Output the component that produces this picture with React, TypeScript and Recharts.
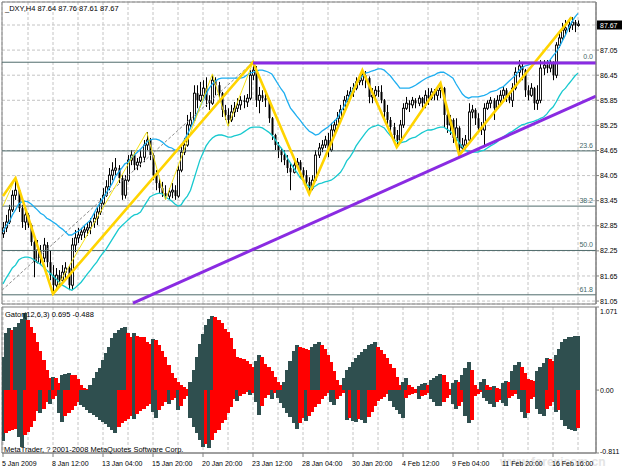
import React from 'react';
import {
  ComposedChart,
  Bar,
  Line,
  XAxis,
  YAxis,
  CartesianGrid,
  ReferenceLine,
  ReferenceArea,
  Cell,
} from 'recharts';

const FONT = "'Liberation Sans', Arial, sans-serif";
const DARK = '#2F4F4F';
const RED = '#FF0000';

// _DXY H4 bars, 5 Jan - 17 Feb 2009
const closes = [
  82.8, 82.94, 83.23, 83.58, 83.7, 83.27, 82.94, 83.11, 82.87, 82.46,
  81.98, 82.27, 82.08, 82.39, 81.98, 81.67, 81.43, 81.67, 81.55, 81.74,
  81.84, 81.43, 82.39, 82.56, 82.63, 82.7, 82.75, 82.8, 82.94, 83.03,
  83.18, 83.39, 83.58, 83.78, 84.06, 84.18, 84.23, 83.99, 83.58, 83.94,
  84.42, 84.54, 84.3, 84.37, 84.49, 84.78, 84.9, 84.54, 84.06, 83.87,
  83.75, 83.63, 83.56, 83.66, 83.7, 83.56, 84.18, 84.61, 84.78, 85.26,
  85.38, 86.02, 85.85, 85.97, 86.14, 85.85, 85.78, 86.33, 86.21, 86.02,
  85.62, 85.5, 85.38, 85.57, 85.66, 85.74, 85.85, 85.81, 85.9, 86.45,
  86.57, 85.85, 85.97, 85.9, 85.85, 85.42, 85.02, 84.78, 84.66, 84.54,
  84.42, 84.23, 84.13, 84.3, 84.37, 84.18, 84.06, 83.9, 83.75, 83.94,
  84.54, 84.71, 84.78, 84.9, 84.66, 85.14, 85.26, 85.42, 85.62, 85.85,
  85.97, 86.05, 86.14, 86.29, 86.33, 86.45, 86.38, 85.93, 85.97, 86.09,
  86.05, 85.85, 85.57, 85.38, 85.21, 85.02, 84.9, 85.26, 85.66, 85.78,
  85.74, 85.85, 85.78, 85.9, 85.78, 85.97, 85.9, 86.05, 85.97, 86.09,
  86.14, 85.5, 85.26, 85.38, 84.95, 85.19, 84.71, 84.78, 84.9, 85.57,
  85.62, 85.42, 85.19, 85.14, 85.66, 85.78, 85.85, 85.66, 85.85, 85.97,
  86.09, 85.93, 85.85, 86.14, 86.52, 86.67, 86.57, 86.09, 85.97, 86.14,
  85.78, 85.85, 86.62, 86.69, 86.62, 86.74, 86.45, 87.17, 87.34, 87.53,
  87.58, 87.65, 87.72, 87.64, 87.67,
];

const highs = [
  82.94, 83.11, 83.35, 83.7, 83.99, 83.75, 83.35, 83.23, 83.15, 82.9,
  82.5, 82.51, 82.39, 82.56, 82.46, 82.27, 81.91, 81.84, 81.79, 81.91,
  81.98, 81.88, 82.56, 82.75, 82.8, 82.8, 82.87, 82.94, 83.03, 83.18,
  83.3, 83.51, 83.75, 83.94, 84.23, 84.37, 84.47, 84.3, 84.06, 84.06,
  84.54, 84.66, 84.61, 84.47, 84.66, 84.9, 85.09, 84.95, 84.58, 84.18,
  83.99, 83.9, 83.82, 83.75, 83.87, 83.82, 84.3, 84.78, 84.95, 85.5,
  85.57, 86.21, 86.21, 86.29, 86.33, 86.4, 85.97, 86.48, 86.4, 86.29,
  86.05, 85.74, 85.66, 85.74, 85.81, 85.9, 85.95, 85.97, 86.0, 86.57,
  86.76, 86.67, 86.17, 86.09, 86.02, 85.88, 85.45, 85.05, 84.85, 84.71,
  84.66, 84.54, 84.35, 84.47, 84.47, 84.42, 84.25, 84.18, 84.01, 84.06,
  84.66, 84.83, 84.9, 85.0, 85.07, 85.31, 85.38, 85.57, 85.74, 85.95,
  86.09, 86.17, 86.26, 86.4, 86.45, 86.57, 86.55, 86.42, 86.14, 86.19,
  86.19, 86.21, 85.88, 85.74, 85.45, 85.31, 85.14, 85.38, 85.78, 85.93,
  85.85, 85.93, 85.9, 85.97, 85.93, 86.09, 86.14, 86.14, 86.12, 86.17,
  86.26, 86.17, 85.57, 85.5, 85.42, 85.42, 85.23, 84.95, 85.02, 85.78,
  85.74, 85.66, 85.54, 85.33, 85.78, 85.85, 85.93, 85.9, 85.97, 86.09,
  86.17, 86.14, 86.02, 86.26, 86.64, 86.81, 86.76, 86.6, 86.21, 86.26,
  86.17, 86.21, 86.81, 86.81, 86.81, 86.81, 86.78, 87.24, 87.46, 87.7,
  87.77, 87.82, 87.84, 87.77, 87.76,
];

const lows = [
  82.56, 82.7, 82.89, 83.18, 83.47, 83.18, 82.8, 82.75, 82.8, 82.37,
  81.62, 81.95, 81.91, 81.98, 81.86, 81.55, 81.22, 81.31, 81.43, 81.48,
  81.6, 81.31, 81.31, 82.22, 82.44, 82.51, 82.56, 82.61, 82.65, 82.8,
  82.87, 83.11, 83.35, 83.54, 83.7, 83.94, 84.06, 83.87, 83.47, 83.5,
  83.9, 84.3, 84.18, 84.18, 84.25, 84.37, 84.66, 84.42, 83.94, 83.7,
  83.63, 83.54, 83.47, 83.47, 83.51, 83.47, 83.52, 84.13, 84.54, 84.74,
  85.19, 85.35, 85.66, 85.81, 85.9, 85.69, 85.62, 85.74, 85.97, 85.9,
  85.45, 85.38, 85.23, 85.33, 85.45, 85.57, 85.62, 85.66, 85.69, 85.85,
  86.33, 85.69, 85.54, 85.81, 85.69, 85.31, 84.9, 84.66, 84.47, 84.37,
  84.3, 84.11, 83.7, 84.1, 84.23, 83.99, 83.94, 83.78, 83.61, 83.7,
  83.9, 84.47, 84.61, 84.71, 84.49, 84.62, 85.07, 85.21, 85.33, 85.57,
  85.8, 85.9, 85.93, 86.09, 86.21, 86.21, 86.14, 85.78, 85.78, 85.85,
  85.93, 85.78, 85.42, 85.26, 85.11, 84.9, 84.73, 84.83, 85.19, 85.62,
  85.57, 85.66, 85.66, 85.71, 85.62, 85.66, 85.74, 85.85, 85.85, 85.85,
  85.9, 85.21, 85.07, 85.02, 84.83, 84.78, 84.54, 84.66, 84.71, 84.85,
  85.42, 85.26, 85.07, 85.02, 84.73, 85.62, 85.66, 85.38, 85.62, 85.78,
  85.85, 85.81, 85.78, 85.69, 86.09, 86.4, 86.33, 85.93, 85.85, 85.93,
  85.62, 85.62, 85.78, 86.45, 86.5, 86.52, 86.33, 86.38, 87.1, 87.29,
  87.41, 87.48, 87.53, 87.48, 87.61,
];

// each bar opens at the previous close
const opens = [82.66, ...closes.slice(0, -1)];

const upperBand = [
  82.7, 82.85, 82.94, 83.11, 83.23, 83.37, 83.42, 83.44, 83.42, 83.37,
  83.3, 83.23, 83.15, 83.11, 83.03, 82.99, 82.94, 82.89, 82.82, 82.77,
  82.7, 82.63, 82.63, 82.68, 82.72, 82.77, 82.85, 82.92, 82.99, 83.13,
  83.27, 83.39, 83.51, 83.63, 83.75, 83.87, 84.04, 84.13, 84.23, 84.33,
  84.37, 84.47, 84.54, 84.61, 84.68, 84.76, 84.85, 84.9, 84.92, 84.92,
  84.9, 84.85, 84.78, 84.73, 84.71, 84.66, 84.66, 84.76, 84.9, 85.04,
  85.19, 85.35, 85.52, 85.69, 85.85, 86.0, 86.14, 86.24, 86.31, 86.36,
  86.38, 86.38, 86.38, 86.38, 86.38, 86.38, 86.38, 86.4, 86.45, 86.5,
  86.52, 86.55, 86.57, 86.57, 86.55, 86.52, 86.48, 86.36, 86.24, 86.12,
  86.02, 85.83, 85.66, 85.57, 85.47, 85.38, 85.28, 85.19, 85.11, 85.07,
  85.02, 85.04, 85.11, 85.16, 85.21, 85.28, 85.35, 85.42, 85.57, 85.69,
  85.83, 85.97, 86.12, 86.26, 86.36, 86.43, 86.5, 86.52, 86.55, 86.57,
  86.6, 86.6, 86.57, 86.5, 86.43, 86.33, 86.24, 86.14, 86.14, 86.14,
  86.14, 86.17, 86.21, 86.26, 86.31, 86.36, 86.4, 86.43, 86.45, 86.5,
  86.52, 86.52, 86.48, 86.43, 86.38, 86.24, 86.12, 86.0, 85.93, 85.9,
  85.93, 85.93, 85.93, 85.95, 85.97, 86.0, 86.05, 86.07, 86.09, 86.14,
  86.17, 86.24, 86.31, 86.38, 86.45, 86.55, 86.62, 86.67, 86.69, 86.72,
  86.74, 86.74, 86.74, 86.74, 86.74, 86.81, 86.91, 87.0, 87.12, 87.27,
  87.41, 87.58, 87.72, 87.84, 87.93,
];

const lowerBand = [
  81.46, 81.6, 81.72, 81.84, 81.91, 82.03, 82.08, 82.1, 82.1, 82.08,
  82.03, 81.98, 81.93, 81.86, 81.79, 81.72, 81.65, 81.58, 81.5, 81.43,
  81.39, 81.34, 81.31, 81.36, 81.43, 81.5, 81.6, 81.7, 81.79, 81.89,
  81.98, 82.1, 82.2, 82.29, 82.41, 82.53, 82.65, 82.77, 82.85, 82.92,
  82.99, 83.06, 83.11, 83.13, 83.18, 83.3, 83.42, 83.54, 83.58, 83.61,
  83.63, 83.61, 83.54, 83.49, 83.44, 83.37, 83.32, 83.35, 83.47, 83.56,
  83.7, 83.94, 84.18, 84.42, 84.59, 84.76, 84.87, 84.95, 85.0, 85.02,
  85.02, 85.0, 84.97, 84.97, 85.0, 85.02, 85.04, 85.09, 85.14, 85.19,
  85.21, 85.21, 85.21, 85.19, 85.14, 85.09, 85.02, 84.92, 84.8, 84.71,
  84.61, 84.47, 84.35, 84.23, 84.13, 84.01, 83.94, 83.85, 83.78, 83.75,
  83.8, 83.85, 83.87, 83.9, 83.92, 83.94, 83.99, 84.06, 84.13, 84.25,
  84.4, 84.49, 84.61, 84.76, 84.87, 84.97, 85.07, 85.16, 85.21, 85.23,
  85.26, 85.23, 85.19, 85.09, 85.0, 84.92, 84.87, 84.83, 84.85, 84.87,
  84.92, 84.95, 84.97, 85.02, 85.07, 85.11, 85.14, 85.14, 85.16, 85.19,
  85.21, 85.21, 85.16, 85.11, 85.04, 84.95, 84.83, 84.73, 84.66, 84.61,
  84.61, 84.61, 84.61, 84.64, 84.66, 84.71, 84.76, 84.8, 84.85, 84.92,
  84.97, 85.02, 85.07, 85.11, 85.16, 85.21, 85.26, 85.28, 85.31, 85.33,
  85.35, 85.38, 85.42, 85.45, 85.52, 85.62, 85.69, 85.81, 85.95, 86.07,
  86.14, 86.24, 86.33, 86.43, 86.5,
];

// zigzag pivots: [bar index, price]
const zigzagMajor = [
  [0, 83.56], [4, 83.99], [16, 81.22], [80, 86.76], [98, 83.61],
  [115, 86.57], [126, 84.73], [140, 86.26], [146, 84.54], [182, 87.84],
];
const zigzagMinor = [
  [0, 83.32], [4, 83.99], [16, 81.22], [46, 85.09], [52, 83.47],
  [67, 86.48], [72, 85.23], [80, 86.76],
];

const fibLevels = [
  { name: '0.0', price: 86.76 },
  { name: '23.6', price: 84.64 },
  { name: '38.2', price: 83.32 },
  { name: '50.0', price: 82.26 },
  { name: '61.8', price: 81.2 },
];

const supportLine = [{ x: 41.6, y: 81.0 }, { x: 189.76, y: 85.95 }];
const resistanceLine = [{ x: 80, y: 86.74 }, { x: 189.76, y: 86.74 }];
const fibBaseLine = [{ x: -0.32, y: 81.31 }, { x: 80, y: 86.76 }];

const gatorUp = [
  0.43, 0.74, 0.8, 0.77, 0.81, 0.86, 0.92, 0.99, 0.9, 0.81,
  0.73, 0.62, 0.51, 0.39, 0.26, 0.15, 0.17, 0.15, 0.09, 0.19,
  0.21, 0.22, 0.2, 0.19, 0.14, 0.07, 0.03, 0.02, 0.07, 0.16,
  0.23, 0.29, 0.39, 0.48, 0.55, 0.67, 0.73, 0.77, 0.8, 0.81,
  0.73, 0.68, 0.73, 0.7, 0.69, 0.68, 0.62, 0.6, 0.66, 0.64,
  0.58, 0.51, 0.43, 0.32, 0.22, 0.16, 0.11, 0.07, 0.04, 0.02,
  0.11, 0.26, 0.43, 0.59, 0.72, 0.84, 0.91, 0.96, 0.94, 0.9,
  0.86, 0.79, 0.75, 0.67, 0.53, 0.43, 0.41, 0.4, 0.38, 0.34,
  0.3, 0.38, 0.45, 0.43, 0.34, 0.3, 0.24, 0.17, 0.1, 0.06,
  0.11, 0.26, 0.38, 0.51, 0.58, 0.55, 0.54, 0.53, 0.52, 0.56,
  0.6, 0.62, 0.58, 0.53, 0.45, 0.36, 0.24, 0.13, 0.07, 0.15,
  0.26, 0.3, 0.36, 0.41, 0.45, 0.49, 0.53, 0.58, 0.6, 0.62,
  0.56, 0.52, 0.46, 0.41, 0.34, 0.28, 0.17, 0.07, 0.1, 0.15,
  0.07, 0.04, 0.01, 0.05, 0.08, 0.09, 0.07, 0.13, 0.16, 0.18,
  0.21, 0.2, 0.1, 0.01, 0.09, 0.13, 0.11, 0.19, 0.28, 0.36,
  0.26, 0.07, 0.01, 0.1, 0.14, 0.07, 0.04, 0.05, 0.03, 0.01,
  0.09, 0.12, 0.11, 0.24, 0.32, 0.36, 0.3, 0.22, 0.14, 0.13,
  0.12, 0.24, 0.3, 0.35, 0.41, 0.4, 0.38, 0.45, 0.53, 0.62,
  0.66, 0.68, 0.69, 0.692, 0.695,
];

const gatorDown = [
  -0.66, -0.55, -0.53, -0.51, -0.5, -0.6, -0.74, -0.58, -0.54, -0.47,
  -0.4, -0.27, -0.3, -0.24, -0.15, -0.18, -0.11, -0.07, -0.3, -0.41,
  -0.33, -0.3, -0.26, -0.2, -0.16, -0.19, -0.22, -0.26, -0.29, -0.32,
  -0.35, -0.38, -0.41, -0.44, -0.48, -0.51, -0.55, -0.47, -0.43, -0.4,
  -0.37, -0.34, -0.37, -0.31, -0.27, -0.24, -0.21, -0.18, -0.28, -0.36,
  -0.26, -0.2, -0.15, -0.18, -0.13, -0.1, -0.26, -0.21, -0.12, -0.07,
  -0.36, -0.47, -0.55, -0.64, -0.73, -0.7, -0.75, -0.64, -0.55, -0.51,
  -0.43, -0.38, -0.3, -0.22, -0.12, -0.14, -0.07, -0.05, -0.03, -0.06,
  -0.04, -0.15, -0.32, -0.2, -0.1, -0.06, -0.12, -0.04, -0.1, -0.17,
  -0.23, -0.29, -0.35, -0.43, -0.5, -0.42, -0.36, -0.4, -0.34, -0.28,
  -0.22, -0.18, -0.12, -0.07, -0.04, -0.15, -0.19, -0.12, -0.08, -0.04,
  -0.38, -0.36, -0.4, -0.41, -0.37, -0.39, -0.42, -0.35, -0.28, -0.2,
  -0.14, -0.12, -0.09, -0.05, -0.14, -0.22, -0.26, -0.31, -0.36, -0.1,
  -0.06, -0.05, -0.04, -0.12, -0.08, -0.06, -0.04, -0.12, -0.16, -0.2,
  -0.21, -0.15, -0.1, -0.06, -0.18, -0.24, -0.2, -0.16, -0.33, -0.43,
  -0.38, -0.08, -0.05, -0.03, -0.1, -0.14, -0.18, -0.22, -0.16, -0.13,
  -0.17, -0.2, -0.1, -0.07, -0.05, -0.12, -0.28, -0.36, -0.3, -0.12,
  -0.09, -0.25, -0.31, -0.33, -0.24, -0.2, -0.15, -0.28, -0.26, -0.38,
  -0.46, -0.5, -0.52, -0.53, -0.488,
];

const priceTicks = [81.05, 81.65, 82.25, 82.85, 83.45, 84.05, 84.65, 85.25, 85.85, 86.45, 87.05, 87.65];
const gatorTicks = [-0.811, 0, 1.071];
const gridTicks = [0, 8, 16, 24, 32, 40, 48, 56, 64, 72, 80, 88, 96, 104, 112, 120, 128, 136, 144, 152, 160, 168, 176, 184];
const timeLabels = [
  '5 Jan 2009', '8 Jan 12:00', '13 Jan 04:00', '15 Jan 20:00', '20 Jan 20:00', '23 Jan 12:00',
  '28 Jan 04:00', '30 Jan 20:00', '4 Feb 12:00', '9 Feb 04:00', '11 Feb 20:00', '16 Feb 16:00',
];

const X_DOMAIN = [-0.32, 189.76];
const PRICE_DOMAIN = [80.98, 88.2];

const majorMap = new Map(zigzagMajor.map(([i, p]) => [i, p]));
const minorMap = new Map(zigzagMinor.map(([i, p]) => [i, p]));

const rows = closes.map((close, i) => ({
  i,
  open: opens[i],
  high: highs[i],
  low: lows[i],
  close,
  range: [lows[i], highs[i]],
  upper: upperBand[i],
  lower: lowerBand[i],
  zzMajor: majorMap.has(i) ? majorMap.get(i) : null,
  zzMinor: minorMap.has(i) ? minorMap.get(i) : null,
  gUp: gatorUp[i],
  gDn: gatorDown[i],
}));

const upFill = gatorUp.map((v, i) => (i === 0 || v > gatorUp[i - 1] ? DARK : RED));
const dnFill = gatorDown.map((v, i) => (i === 0 || Math.abs(v) > Math.abs(gatorDown[i - 1]) ? DARK : RED));

const last = rows[rows.length - 1];

const Candle = (props: any) => {
  const { x, width, y, height, payload } = props;
  if (x == null || !payload) return null;
  const top = Math.min(y, y + height);
  const h = Math.abs(height);
  const cx = Math.round(x + width / 2) + 0.5;
  const span = payload.high - payload.low;
  const ppu = span > 0 ? h / span : 0;
  const yo = top + (payload.high - payload.open) * ppu;
  const yc = top + (payload.high - payload.close) * ppu;
  const bull = payload.close >= payload.open;
  const bTop = Math.min(yo, yc);
  const bH = Math.max(1, Math.abs(yc - yo));
  return (
    <g>
      <line x1={cx} x2={cx} y1={top} y2={top + h} stroke="#000" strokeWidth={1} />
      {bull ? (
        <rect x={cx - 1} y={bTop} width={2} height={bH} fill="#fff" stroke="#000" strokeWidth={0.9} />
      ) : (
        <rect x={cx - 1} y={bTop} width={2} height={bH} fill="#000" />
      )}
    </g>
  );
};

// histogram column that always covers its full slot, so neighbours touch
const GatorColumn = (props: any) => {
  const { x, y, width, height, fill } = props;
  if (x == null || !height) return null;
  const top = Math.min(y, y + height);
  return (
    <rect
      x={Math.floor(x)}
      y={top}
      width={Math.ceil(width) + 1}
      height={Math.abs(height)}
      fill={fill}
      shapeRendering="crispEdges"
    />
  );
};

const PriceTick = (props: any) => {
  const { x, y, payload } = props;
  const v = payload.value;
  if (v === priceTicks[priceTicks.length - 1]) {
    return (
      <g>
        <rect x={x - 3} y={y - 4.5} width={25} height={9} fill="#000" />
        <text x={x} y={y + 2.6} fill="#fff" fontSize={7} fontFamily={FONT}>
          {last.close.toFixed(2)}
        </text>
      </g>
    );
  }
  return (
    <text x={x} y={y + 2.6} fill="#000" fontSize={7} fontFamily={FONT}>
      {v.toFixed(2)}
    </text>
  );
};

const GatorTick = (props: any) => {
  const { x, y, payload } = props;
  const v = payload.value;
  const dy = v === gatorTicks[2] ? 6.5 : v === gatorTicks[0] ? 0.5 : 2.6;
  return (
    <text x={x} y={y + dy} fill="#000" fontSize={7} fontFamily={FONT}>
      {v === 0 ? '0.00' : v.toFixed(3)}
    </text>
  );
};

const TimeTick = (props: any) => {
  const { x, y, payload } = props;
  const v = Math.round(payload.value);
  if (v % 16 !== 0) return null;
  return (
    <g>
      <line x1={x} x2={x} y1={y} y2={y + 4} stroke="#808080" />
      <text x={x - 1} y={y + 13} fill="#000" fontSize={7} fontFamily={FONT}>
        {timeLabels[v / 16]}
      </text>
    </g>
  );
};

export default function App() {
  return (
    <div
      style={{
        position: 'absolute',
        left: 0,
        top: 0,
        width: 627,
        height: 470,
        background: '#fff',
        overflow: 'hidden',
        fontFamily: FONT,
      }}
    >
      <div
        style={{
          position: 'absolute',
          left: 500,
          top: 455,
          fontSize: 12,
          fontWeight: 'bold',
          color: '#E4E4E4',
          whiteSpace: 'nowrap',
        }}
      >
        www.forexicom.cn
      </div>

      <div style={{ position: 'absolute', left: 0, top: 0 }}>
        <ComposedChart width={627} height={306} data={rows} margin={{ top: 2, right: 0, bottom: 2, left: 2 }}>
          <CartesianGrid stroke="#C4C4C4" strokeDasharray="3 2" />
          <XAxis type="number" dataKey="i" domain={X_DOMAIN} ticks={gridTicks} hide allowDataOverflow />
          <YAxis
            orientation="right"
            width={31}
            domain={PRICE_DOMAIN}
            ticks={priceTicks}
            allowDataOverflow
            interval={0}
            tickSize={3}
            tickMargin={1}
            tickLine={{ stroke: '#808080' }}
            axisLine={{ stroke: '#808080' }}
            tick={<PriceTick />}
          />
          <ReferenceArea
            x1={X_DOMAIN[0]}
            x2={X_DOMAIN[1]}
            y1={PRICE_DOMAIN[0]}
            y2={PRICE_DOMAIN[1]}
            fill="none"
            stroke="#808080"
            ifOverflow="visible"
          />
          {fibLevels.map((f) => (
            <ReferenceLine
              key={f.name}
              y={f.price}
              stroke="#4F6B6B"
              strokeWidth={1}
              ifOverflow="visible"
              label={{ value: f.name, position: 'insideBottomRight', offset: 3, fill: '#3F6868', fontSize: 7, fontFamily: FONT }}
            />
          ))}
          <ReferenceLine segment={fibBaseLine} stroke="#8C8C8C" strokeDasharray="3 2" ifOverflow="visible" />
          <Bar dataKey="range" barSize={3} shape={<Candle />} isAnimationActive={false} />
          <Line type="linear" dataKey="upper" stroke="#1EAEF0" strokeWidth={1.3} dot={false} activeDot={false} isAnimationActive={false} />
          <Line type="linear" dataKey="lower" stroke="#17C9CF" strokeWidth={1.3} dot={false} activeDot={false} isAnimationActive={false} />
          <Line type="linear" dataKey="zzMinor" stroke="#F5E31A" strokeWidth={1} dot={false} activeDot={false} connectNulls isAnimationActive={false} />
          <Line type="linear" dataKey="zzMajor" stroke="#FFD400" strokeWidth={2.6} dot={false} activeDot={false} connectNulls isAnimationActive={false} />
          <ReferenceLine segment={resistanceLine} stroke="#8A2BE2" strokeWidth={3} ifOverflow="visible" />
          <ReferenceLine segment={supportLine} stroke="#8A2BE2" strokeWidth={3} ifOverflow="visible" />
        </ComposedChart>
      </div>

      <div style={{ position: 'absolute', left: 0, top: 306 }}>
        <ComposedChart
          width={627}
          height={164}
          data={rows}
          margin={{ top: 1, right: 0, bottom: 0, left: 2 }}
          stackOffset="sign"
          barCategoryGap={0}
          barGap={0}
        >
          <CartesianGrid horizontal={false} stroke="#C4C4C4" strokeDasharray="3 2" />
          <XAxis
            type="number"
            dataKey="i"
            domain={X_DOMAIN}
            ticks={gridTicks}
            interval={0}
            allowDataOverflow
            height={17}
            tickSize={0}
            tickMargin={0}
            tickLine={false}
            axisLine={{ stroke: '#808080' }}
            tick={<TimeTick />}
          />
          <YAxis
            orientation="right"
            width={31}
            domain={[gatorTicks[0], gatorTicks[2]]}
            ticks={gatorTicks}
            allowDataOverflow
            interval={0}
            tickSize={3}
            tickMargin={1}
            tickLine={{ stroke: '#808080' }}
            axisLine={{ stroke: '#808080' }}
            tick={<GatorTick />}
          />
          <ReferenceArea
            x1={X_DOMAIN[0]}
            x2={X_DOMAIN[1]}
            y1={gatorTicks[0]}
            y2={gatorTicks[2]}
            fill="none"
            stroke="#808080"
            ifOverflow="visible"
          />
          <Bar dataKey="gUp" stackId="g" barSize={3} shape={<GatorColumn />} isAnimationActive={false}>
            {rows.map((r, i) => (
              <Cell key={`u${i}`} fill={upFill[i]} />
            ))}
          </Bar>
          <Bar dataKey="gDn" stackId="g" barSize={3} shape={<GatorColumn />} isAnimationActive={false}>
            {rows.map((r, i) => (
              <Cell key={`d${i}`} fill={dnFill[i]} />
            ))}
          </Bar>
        </ComposedChart>
      </div>

      <svg width={627} height={470} style={{ position: 'absolute', left: 0, top: 0, pointerEvents: 'none' }}>
        <text x={5} y={10.5} fontSize={7.5} fontFamily={FONT} fill="#000">
          {`_DXY,H4 ${last.open.toFixed(2)} ${last.high.toFixed(2)} ${last.low.toFixed(2)} ${last.close.toFixed(2)}`}
        </text>
        <text x={5} y={317} fontSize={7.5} fontFamily={FONT} fill="#000">
          {`Gator(12,6,3) ${last.gUp.toFixed(3)} ${last.gDn.toFixed(3)}`}
        </text>
        <text x={4} y={451.5} fontSize={7.5} fontFamily={FONT} fill="#000">
          MetaTrader, ? 2001-2008 MetaQuotes Software Corp.
        </text>
      </svg>
    </div>
  );
}
